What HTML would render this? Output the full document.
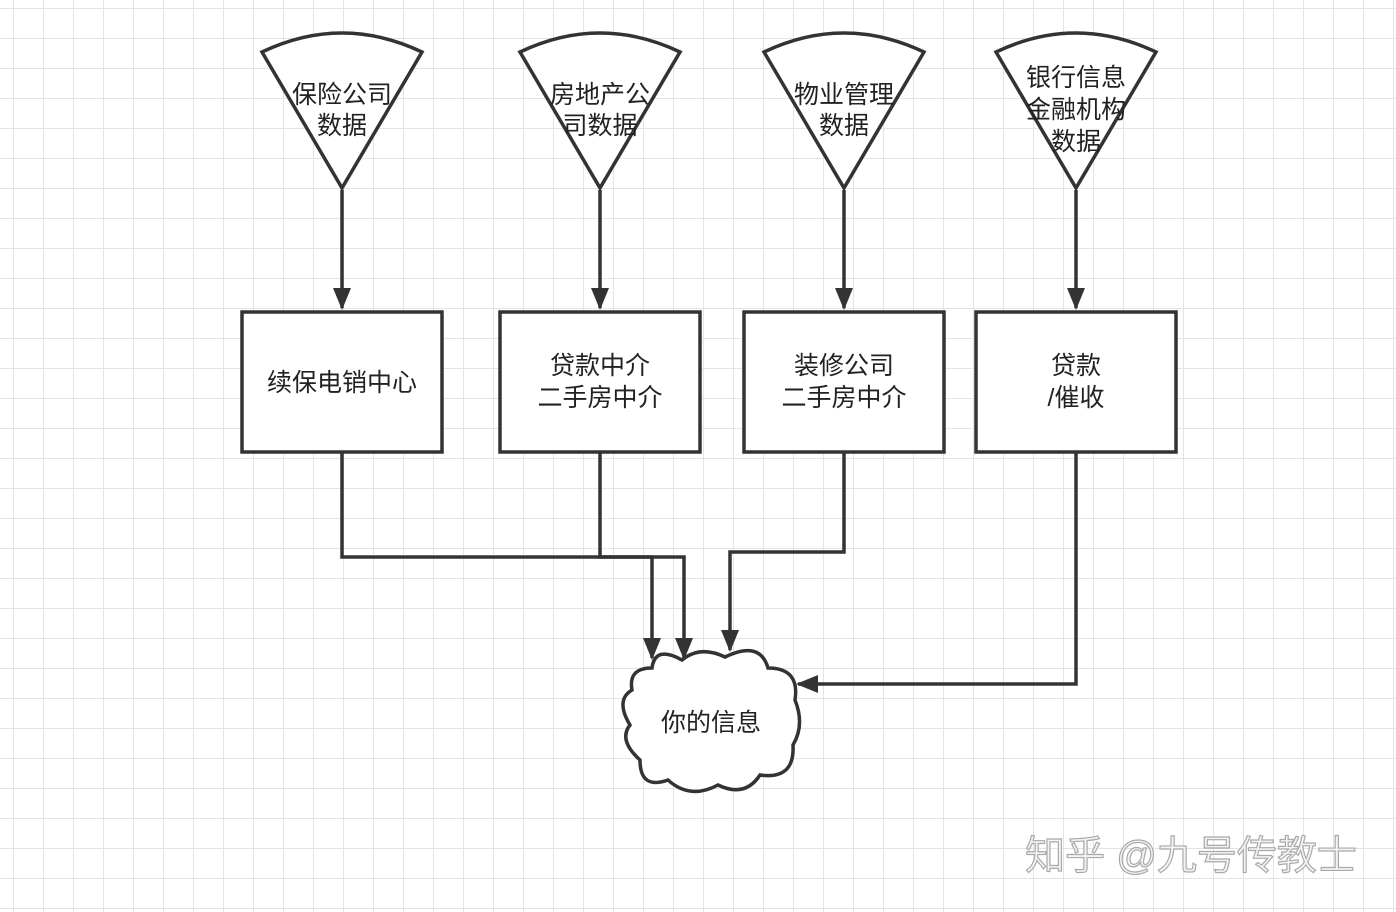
<!DOCTYPE html>
<html><head><meta charset="utf-8"><style>
html,body{margin:0;padding:0;background:#fff}
body{width:1396px;height:912px;overflow:hidden;position:relative;
background-image:linear-gradient(#e4e4e4 1px,transparent 1px),linear-gradient(90deg,#e4e4e4 1px,transparent 1px);
background-size:30px 30px;background-position:0 8px,13px 0;}
svg{position:absolute;left:0;top:0}
text{font-family:"Liberation Sans","Noto Sans CJK SC",sans-serif;font-size:25px;fill:#222;text-anchor:middle}
</style></head><body>
<svg width="1396" height="912" viewBox="0 0 1396 912">
<defs>
<marker id="b" markerWidth="22" markerHeight="22" refX="20" refY="11" orient="auto" markerUnits="userSpaceOnUse" viewBox="0 0 22 22"><path d="M0,2 L22,11 L0,20z" fill="#333"/></marker></defs>
<g fill="#fff" stroke="#333" stroke-width="3.5">
<path d="M262,52 Q342,14 422,52 L342,188 Z"/>
<path d="M520,52 Q600,14 680,52 L600,188 Z"/>
<path d="M764,52 Q844,14 924,52 L844,188 Z"/>
<path d="M996,52 Q1076,14 1156,52 L1076,188 Z"/>
<rect x="242" y="312" width="200" height="140"/>
<rect x="500" y="312" width="200" height="140"/>
<rect x="744" y="312" width="200" height="140"/>
<rect x="976" y="312" width="200" height="140"/>
<path d="M652,668 Q655,645 682,660 Q700,645 725,657 Q760,640 768,668 Q800,668 795,700 Q805,725 793,745 Q795,780 760,775 Q745,798 718,785 Q690,800 668,780 Q640,790 640,760 Q618,740 630,725 Q615,700 632,690 Q628,668 652,668 Z"/>
</g>
<g fill="none" stroke="#333" stroke-width="3.5">
<path d="M342,190 V308" marker-end="url(#b)"/>
<path d="M600,190 V308" marker-end="url(#b)"/>
<path d="M844,190 V308" marker-end="url(#b)"/>
<path d="M1076,190 V308" marker-end="url(#b)"/>
<path d="M342,452 V557 H652 V658" marker-end="url(#b)"/>
<path d="M600,452 V557 H684 V658" marker-end="url(#b)"/>
<path d="M844,452 V552 H730 V650" marker-end="url(#b)"/>
<path d="M1076,452 V684 H798" marker-end="url(#b)"/>
</g>
<text x="342" y="103">保险公司</text><text x="342" y="134">数据</text>
<text x="600" y="103">房地产公</text><text x="600" y="134">司数据</text>
<text x="844" y="103">物业管理</text><text x="844" y="134">数据</text>
<text x="1076" y="86">银行信息</text><text x="1076" y="118">金融机构</text><text x="1076" y="150">数据</text>
<text x="342" y="391">续保电销中心</text>
<text x="600" y="374">贷款中介</text><text x="600" y="406">二手房中介</text>
<text x="844" y="374">装修公司</text><text x="844" y="406">二手房中介</text>
<text x="1076" y="374">贷款</text><text x="1076" y="406">/催收</text>
<text x="711" y="731">你的信息</text>
<text x="1191" y="869" style="font-size:40px;fill:#f4f4f4;stroke:#aaa;stroke-width:1.2">知乎 @九号传教士</text>
</svg>
</body></html>
